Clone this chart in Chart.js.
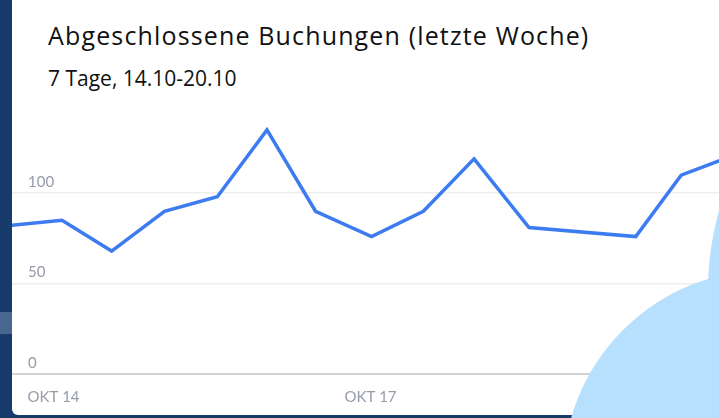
<!DOCTYPE html>
<html>
<head>
<meta charset="utf-8">
<script src="https://cdn.jsdelivr.net/npm/chart.js@4"></script>
<style>
  html, body {
    margin: 0;
    padding: 0;
  }
  body {
    width: 719px;
    height: 418px;
    overflow: hidden;
    position: relative;
    background: #173c6b;
    font-family: "Open Sans", sans-serif;
  }
  .band {
    position: absolute;
    left: 0;
    top: 312px;
    width: 12px;
    height: 22px;
    background: #48678e;
  }
  .card {
    position: absolute;
    left: 12px;
    top: -20px;
    width: 730px;
    height: 435px;
    background: #fff;
    border-radius: 6px;
    overflow: hidden;
  }
  .title {
    position: absolute;
    left: 36px;
    top: 43px;
    font-size: 25px;
    line-height: 25px;
    letter-spacing: 1.15px;
    color: #111;
    white-space: nowrap;
  }
  .subtitle {
    position: absolute;
    left: 36px;
    top: 88px;
    font-size: 21px;
    line-height: 20px;
    color: #111;
    white-space: nowrap;
  }
  .chart-box {
    position: absolute;
    left: 0;
    top: 130px;
    width: 707px;
    height: 305px;
  }
  .blob {
    position: absolute;
    border-radius: 50%;
    background: #b6e0fd;
  }
</style>
</head>
<body>
<div class="band"></div>
<div class="card">
  <div class="title">Abgeschlossene Buchungen (letzte Woche)</div>
  <div class="subtitle">7 Tage, 14.10-20.10</div>
  <div class="chart-box"><canvas id="bookings-chart"></canvas></div>
</div>
<div class="blob" style="left:708px; top:-1px; width:582px; height:582px;"></div>
<div class="blob" style="left:563px; top:270px; width:410px; height:410px;"></div>

<script>
// days after OKT 14 (tick position)
const dayOffsets = [-0.43, 0.08, 0.55, 1.05, 1.55, 2.02, 2.48, 3.01, 3.50, 3.98, 4.50, 5.51, 5.94, 6.44];
const bookings = [82, 85, 68, 90, 98, 135, 90, 76, 90, 119, 81, 76, 110, 121];
const yTicks = [0, 50, 100];
const tickDays = [0, 3];
const tickLabels = ['OKT 14', 'OKT 17'];

const points = dayOffsets.map((d, i) => ({ x: d, y: bookings[i] }));
const tickFont = { family: 'Lato', size: 15 };

new Chart(document.getElementById('bookings-chart'), {
  type: 'line',
  data: {
    datasets: [{
      data: points,
      borderColor: '#3d7cf0',
      borderWidth: 3.5,
      pointRadius: 0,
      tension: 0,
      fill: false
    }]
  },
  options: {
    responsive: true,
    maintainAspectRatio: false,
    animation: false,
    layout: { padding: 0 },
    plugins: {
      legend: { display: false },
      tooltip: { enabled: false }
    },
    scales: {
      x: {
        type: 'linear',
        min: -0.393,
        max: 6.298,
        afterBuildTicks: (scale) => {
          scale.ticks = tickDays.map(v => ({ value: v }));
        },
        afterFit: (scale) => {
          scale.height = 41;
          scale.paddingLeft = 0;
          scale.paddingRight = 0;
        },
        grid: { display: false, drawTicks: false },
        border: { display: true, color: '#d3d3d3', width: 1 },
        ticks: {
          padding: 14,
          color: '#979aa9',
          font: tickFont,
          maxRotation: 0,
          autoSkip: false,
          callback: (value) => tickLabels[tickDays.indexOf(value)]
        }
      },
      y: {
        min: 0,
        max: 146,
        afterBuildTicks: (scale) => {
          scale.ticks = yTicks.map(v => ({ value: v }));
        },
        afterFit: (scale) => {
          scale.width = 0;
          scale.paddingTop = 0;
          scale.paddingBottom = 0;
        },
        grid: {
          drawTicks: false,
          color: (ctx) => ctx.tick && ctx.tick.value === 0 ? '#d3d3d3' : '#eeeeee',
          lineWidth: 1.5
        },
        border: { display: false },
        ticks: {
          mirror: true,
          padding: 16,
          labelOffset: -11,
          color: '#979aa9',
          font: tickFont
        }
      }
    }
  }
});
</script>
</body>
</html>
